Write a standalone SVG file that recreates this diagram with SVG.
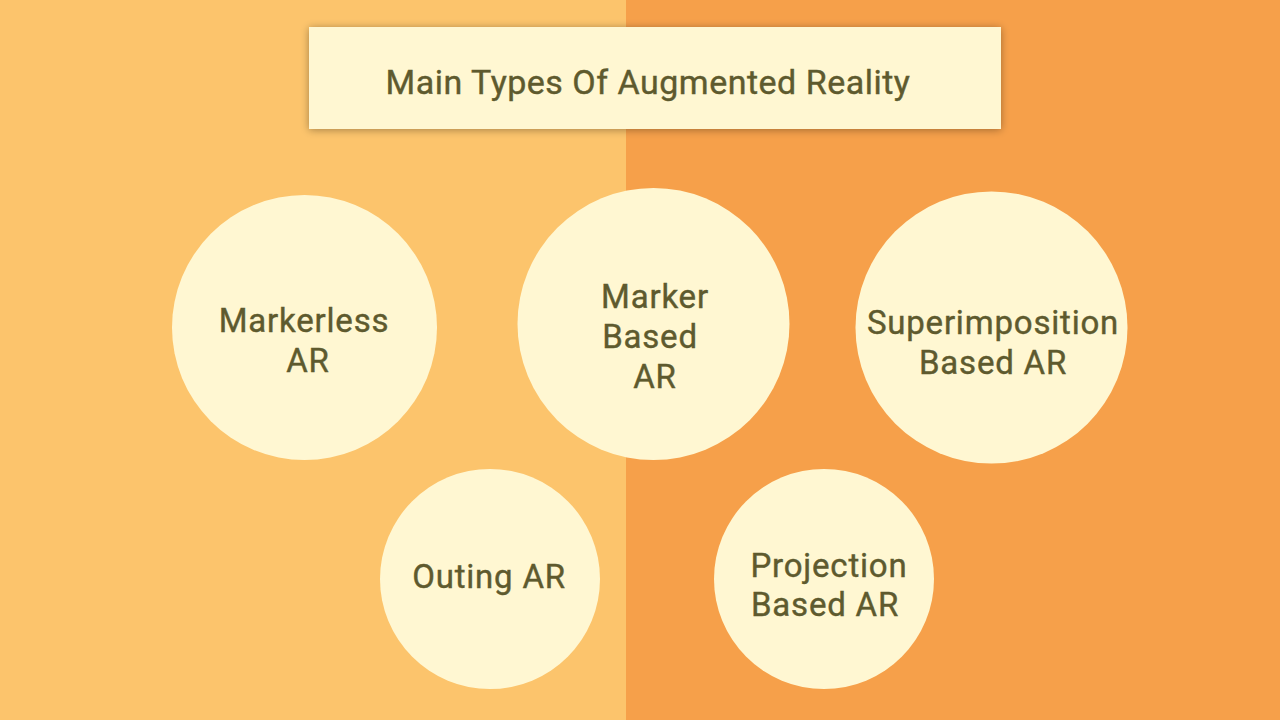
<svg xmlns="http://www.w3.org/2000/svg" width="1280" height="720" viewBox="0 0 1280 720">
<defs>
<filter id="sh" x="-10%" y="-30%" width="120%" height="160%">
<feGaussianBlur in="SourceAlpha" stdDeviation="4"/>
<feOffset dx="0" dy="1"/>
<feComponentTransfer><feFuncA type="linear" slope="0.35"/></feComponentTransfer>
<feMerge><feMergeNode/><feMergeNode in="SourceGraphic"/></feMerge>
</filter>
</defs>
<style>
.c{fill:#FFF7D2}
.t{font-family:Roboto,"Liberation Sans",sans-serif;font-size:33px;font-weight:400;letter-spacing:0.8px;fill:#5E5A2E;stroke:#5E5A2E;stroke-width:0.4px;text-anchor:middle}
.h{font-size:34px;letter-spacing:0.5px}
</style>
<rect x="0" y="0" width="626" height="720" fill="#FCC46C"/>
<rect x="626" y="0" width="654" height="720" fill="#F6A04A"/>
<g id="title">
<rect x="309" y="27" width="692" height="102" class="c" filter="url(#sh)"/>
<text x="648" y="94" class="t h">Main Types Of Augmented Reality</text>
</g>
<g id="markerless">
<circle cx="304.5" cy="327.5" r="132.5" class="c"/>
<text x="304" y="332" class="t">Markerless</text>
<text x="308" y="372" class="t">AR</text>
</g>
<g id="marker-based">
<circle cx="653.5" cy="324" r="136" class="c"/>
<text x="655" y="308" class="t">Marker</text>
<text x="650" y="348" class="t">Based</text>
<text x="655" y="388" class="t">AR</text>
</g>
<g id="superimposition">
<circle cx="991.5" cy="327.5" r="136" class="c"/>
<text x="993" y="334" class="t">Superimposition</text>
<text x="993" y="374" class="t">Based AR</text>
</g>
<g id="outing">
<circle cx="490" cy="579" r="110" class="c"/>
<text x="489" y="588" class="t">Outing AR</text>
</g>
<g id="projection">
<circle cx="824" cy="579" r="110" class="c"/>
<text x="829" y="577" class="t">Projection</text>
<text x="825" y="616" class="t">Based AR</text>
</g>
<g id="connectors"/>
</svg>
